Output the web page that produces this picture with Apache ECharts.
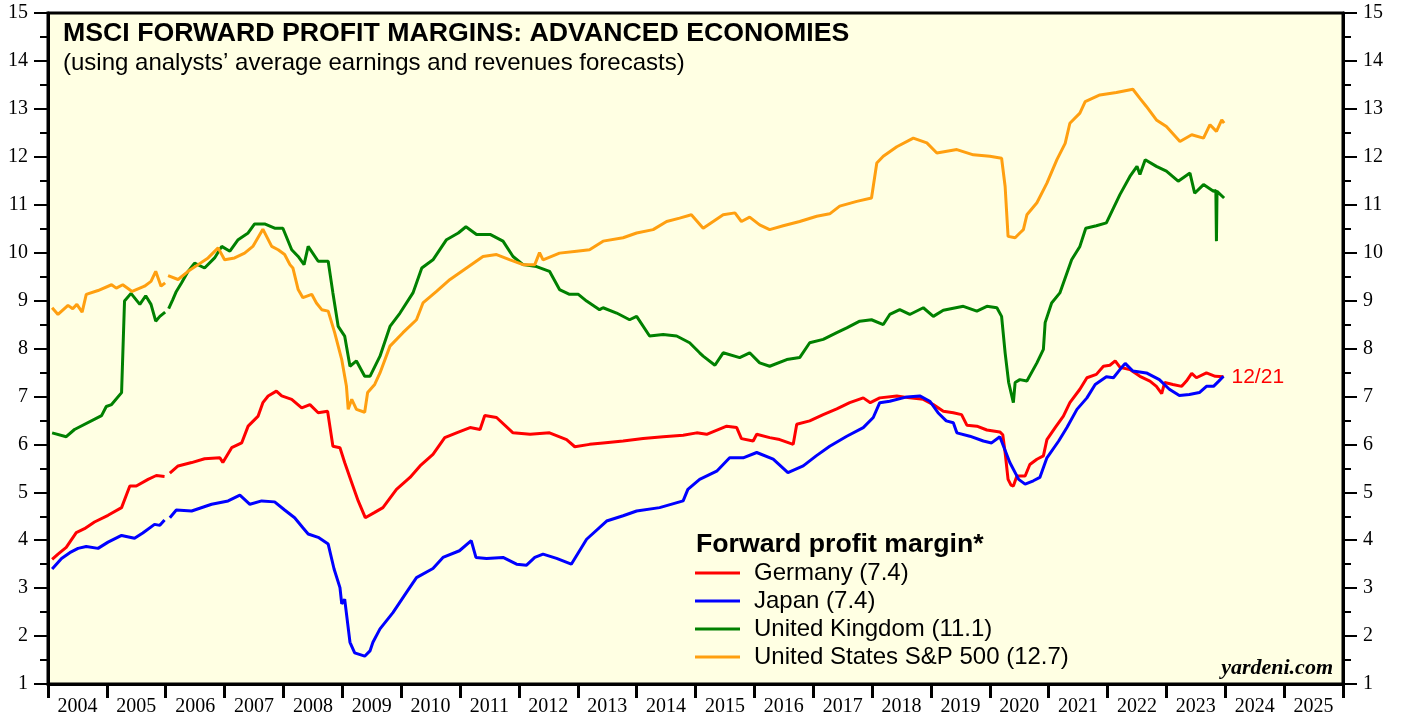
<!DOCTYPE html>
<html>
<head>
<meta charset="utf-8">
<script src="https://cdn.jsdelivr.net/npm/echarts@6/dist/echarts.min.js"></script>
<style>
html,body{margin:0;padding:0;background:#fff;}
#chart{width:1403px;height:717px;}
</style>
</head>
<body>
<div id="chart"></div>
<script>
// ---- data (fractional year, forward profit margin %) ----
const yearLabels = ['2004','2005','2006','2007','2008','2009','2010','2011','2012','2013','2014','2015','2016','2017','2018','2019','2020','2021','2022','2023','2024','2025'];
const yTicks = [1,2,3,4,5,6,7,8,9,10,11,12,13,14,15];

const germany = [[2004.07,3.60],[2004.17,3.71],[2004.31,3.85],[2004.48,4.16],[2004.62,4.24],[2004.79,4.38],[2005.02,4.52],[2005.25,4.68],[2005.39,5.13],[2005.50,5.13],[2005.70,5.27],[2005.84,5.35],[2005.98,5.33],[2006.02,null],[2006.07,5.40],[2006.21,5.55],[2006.44,5.62],[2006.66,5.70],[2006.92,5.72],[2006.97,5.62],[2007.12,5.93],[2007.29,6.03],[2007.40,6.38],[2007.57,6.59],[2007.65,6.87],[2007.74,7.01],[2007.88,7.11],[2007.97,7.01],[2008.14,6.94],[2008.31,6.76],[2008.45,6.83],[2008.59,6.66],[2008.75,6.69],[2008.84,5.96],[2008.96,5.93],[2009.04,5.62],[2009.16,5.20],[2009.27,4.82],[2009.39,4.47],[2009.55,4.58],[2009.69,4.68],[2009.92,5.06],[2010.15,5.31],[2010.32,5.55],[2010.54,5.79],[2010.74,6.14],[2010.94,6.24],[2011.17,6.35],[2011.34,6.31],[2011.42,6.60],[2011.62,6.56],[2011.90,6.24],[2012.19,6.21],[2012.52,6.24],[2012.81,6.10],[2012.95,5.95],[2013.20,6.00],[2013.43,6.03],[2013.77,6.07],[2014.11,6.12],[2014.45,6.16],[2014.79,6.19],[2015.02,6.24],[2015.19,6.21],[2015.53,6.38],[2015.70,6.35],[2015.78,6.12],[2015.98,6.07],[2016.04,6.21],[2016.26,6.14],[2016.43,6.10],[2016.66,6.00],[2016.72,6.42],[2016.94,6.49],[2017.17,6.62],[2017.40,6.74],[2017.62,6.87],[2017.85,6.97],[2017.97,6.87],[2018.13,6.97],[2018.42,7.01],[2018.64,6.97],[2018.87,6.94],[2019.04,6.83],[2019.21,6.69],[2019.38,6.66],[2019.52,6.62],[2019.61,6.40],[2019.78,6.38],[2019.95,6.30],[2020.17,6.26],[2020.22,6.20],[2020.26,5.83],[2020.31,5.27],[2020.36,5.15],[2020.40,5.13],[2020.46,5.34],[2020.49,5.38],[2020.60,5.34],[2020.68,5.58],[2020.80,5.69],[2020.91,5.76],[2020.97,6.10],[2021.11,6.35],[2021.25,6.59],[2021.36,6.87],[2021.53,7.15],[2021.65,7.39],[2021.81,7.46],[2021.93,7.63],[2022.04,7.65],[2022.13,7.74],[2022.21,7.61],[2022.38,7.56],[2022.55,7.42],[2022.72,7.32],[2022.83,7.21],[2022.92,7.06],[2022.97,7.29],[2023.11,7.25],[2023.26,7.21],[2023.34,7.32],[2023.43,7.48],[2023.51,7.39],[2023.68,7.49],[2023.83,7.42],[2023.97,7.41]];

const japan = [[2004.07,3.40],[2004.23,3.62],[2004.37,3.74],[2004.51,3.83],[2004.65,3.87],[2004.85,3.83],[2005.02,3.96],[2005.25,4.10],[2005.47,4.04],[2005.61,4.15],[2005.81,4.33],[2005.90,4.31],[2005.98,4.42],[2006.02,null],[2006.07,4.47],[2006.18,4.63],[2006.44,4.61],[2006.78,4.75],[2007.06,4.82],[2007.26,4.94],[2007.43,4.75],[2007.63,4.82],[2007.85,4.80],[2008.02,4.63],[2008.19,4.47],[2008.33,4.26],[2008.42,4.13],[2008.59,4.06],[2008.76,3.92],[2008.86,3.40],[2008.96,3.01],[2008.99,2.67],[2009.04,2.77],[2009.13,1.87],[2009.21,1.65],[2009.38,1.58],[2009.47,1.69],[2009.52,1.87],[2009.64,2.15],[2009.86,2.49],[2010.09,2.91],[2010.26,3.22],[2010.54,3.41],[2010.71,3.64],[2010.99,3.78],[2011.19,3.99],[2011.27,3.64],[2011.45,3.62],[2011.73,3.64],[2011.96,3.50],[2012.13,3.48],[2012.27,3.64],[2012.41,3.71],[2012.64,3.62],[2012.89,3.50],[2013.15,4.02],[2013.49,4.40],[2013.77,4.51],[2014.00,4.61],[2014.39,4.68],[2014.79,4.82],[2014.87,5.06],[2015.07,5.27],[2015.36,5.44],[2015.58,5.72],[2015.81,5.72],[2016.04,5.83],[2016.32,5.69],[2016.57,5.41],[2016.83,5.55],[2017.05,5.76],[2017.28,5.96],[2017.57,6.17],[2017.85,6.35],[2018.02,6.56],[2018.13,6.87],[2018.30,6.90],[2018.59,6.99],[2018.81,7.01],[2018.98,6.90],[2019.12,6.66],[2019.26,6.49],[2019.38,6.45],[2019.44,6.24],[2019.66,6.17],[2019.89,6.07],[2020.03,6.03],[2020.17,6.16],[2020.34,5.62],[2020.49,5.27],[2020.60,5.17],[2020.74,5.24],[2020.85,5.31],[2020.97,5.72],[2021.17,6.07],[2021.31,6.35],[2021.48,6.73],[2021.65,6.97],[2021.79,7.25],[2021.98,7.41],[2022.10,7.39],[2022.21,7.56],[2022.30,7.69],[2022.43,7.53],[2022.66,7.49],[2022.88,7.35],[2023.05,7.15],[2023.22,7.02],[2023.39,7.04],[2023.56,7.08],[2023.68,7.21],[2023.80,7.21],[2023.89,7.32],[2023.97,7.42]];

const unitedKingdom = [[2004.07,6.24],[2004.31,6.16],[2004.45,6.31],[2004.91,6.60],[2004.99,6.79],[2005.08,6.83],[2005.25,7.08],[2005.30,8.99],[2005.41,9.15],[2005.56,8.92],[2005.66,9.10],[2005.75,8.92],[2005.83,8.57],[2005.90,8.67],[2005.99,8.76],[2006.02,null],[2006.05,8.83],[2006.12,9.02],[2006.18,9.19],[2006.27,9.37],[2006.38,9.61],[2006.49,9.78],[2006.66,9.68],[2006.83,9.89],[2006.95,10.13],[2007.09,10.03],[2007.23,10.27],[2007.40,10.41],[2007.51,10.60],[2007.68,10.60],[2007.85,10.51],[2007.99,10.51],[2008.14,10.06],[2008.25,9.92],[2008.35,9.75],[2008.42,10.13],[2008.59,9.82],[2008.76,9.82],[2008.84,9.16],[2008.93,8.46],[2009.04,8.26],[2009.13,7.63],[2009.24,7.74],[2009.38,7.42],[2009.47,7.42],[2009.64,7.84],[2009.81,8.46],[2009.98,8.74],[2010.20,9.16],[2010.35,9.68],[2010.54,9.85],[2010.77,10.27],[2010.97,10.41],[2011.10,10.54],[2011.28,10.38],[2011.51,10.38],[2011.73,10.24],[2011.90,9.92],[2012.07,9.75],[2012.30,9.71],[2012.52,9.61],[2012.69,9.23],[2012.86,9.13],[2013.01,9.13],[2013.15,8.99],[2013.37,8.81],[2013.43,8.85],[2013.66,8.74],[2013.88,8.60],[2014.00,8.67],[2014.22,8.26],[2014.45,8.29],[2014.68,8.26],[2014.90,8.12],[2015.07,7.91],[2015.13,7.84],[2015.33,7.65],[2015.47,7.91],[2015.75,7.81],[2015.92,7.91],[2016.09,7.70],[2016.26,7.63],[2016.55,7.77],[2016.77,7.81],[2016.94,8.12],[2017.17,8.19],[2017.40,8.33],[2017.57,8.43],[2017.79,8.57],[2017.99,8.60],[2018.19,8.50],[2018.30,8.71],[2018.47,8.81],[2018.64,8.71],[2018.87,8.85],[2019.04,8.67],[2019.21,8.80],[2019.55,8.88],[2019.78,8.78],[2019.95,8.88],[2020.12,8.85],[2020.20,8.67],[2020.26,7.91],[2020.32,7.29],[2020.40,6.87],[2020.43,7.29],[2020.51,7.35],[2020.63,7.32],[2020.80,7.70],[2020.91,7.98],[2020.94,8.54],[2021.05,8.95],[2021.19,9.16],[2021.39,9.85],[2021.53,10.13],[2021.63,10.51],[2021.81,10.56],[2021.98,10.62],[2022.10,10.93],[2022.21,11.21],[2022.38,11.59],[2022.50,11.80],[2022.55,11.63],[2022.64,11.94],[2022.83,11.80],[2023.00,11.70],[2023.20,11.49],[2023.40,11.66],[2023.48,11.24],[2023.63,11.42],[2023.80,11.28],[2023.84,11.30],[2023.85,10.24],[2023.86,11.28],[2023.98,11.14]];

const unitedStates = [[2004.07,8.85],[2004.17,8.71],[2004.34,8.90],[2004.42,8.83],[2004.49,8.92],[2004.58,8.76],[2004.65,9.13],[2004.85,9.21],[2005.08,9.33],[2005.16,9.26],[2005.27,9.33],[2005.43,9.19],[2005.64,9.30],[2005.75,9.40],[2005.83,9.61],[2005.92,9.30],[2005.99,9.37],[2006.02,null],[2006.04,9.52],[2006.21,9.44],[2006.38,9.61],[2006.55,9.75],[2006.72,9.89],[2006.89,10.10],[2007.00,9.85],[2007.17,9.89],[2007.34,9.99],[2007.48,10.13],[2007.65,10.49],[2007.80,10.13],[2007.91,10.06],[2008.02,9.96],[2008.11,9.75],[2008.16,9.68],[2008.25,9.23],[2008.33,9.06],[2008.48,9.13],[2008.56,8.95],[2008.65,8.81],[2008.76,8.78],[2008.87,8.33],[2008.99,7.77],[2009.07,7.21],[2009.10,6.73],[2009.16,6.94],[2009.24,6.73],[2009.38,6.67],[2009.43,7.08],[2009.55,7.25],[2009.64,7.49],[2009.81,8.05],[2010.03,8.33],[2010.26,8.60],[2010.37,8.95],[2010.60,9.19],[2010.83,9.44],[2011.11,9.68],[2011.39,9.92],[2011.62,9.96],[2011.85,9.85],[2012.07,9.75],[2012.27,9.75],[2012.35,10.00],[2012.41,9.85],[2012.69,9.99],[2012.98,10.03],[2013.20,10.06],[2013.43,10.24],[2013.77,10.31],[2014.00,10.41],[2014.28,10.48],[2014.51,10.65],[2014.73,10.72],[2014.93,10.79],[2015.13,10.51],[2015.47,10.79],[2015.67,10.83],[2015.78,10.65],[2015.92,10.74],[2016.09,10.58],[2016.26,10.48],[2016.49,10.56],[2016.77,10.65],[2017.06,10.76],[2017.28,10.81],[2017.45,10.97],[2017.74,11.07],[2017.99,11.14],[2018.08,11.87],[2018.19,12.01],[2018.42,12.21],[2018.70,12.39],[2018.93,12.29],[2019.10,12.08],[2019.44,12.15],[2019.72,12.04],[2020.00,12.01],[2020.20,11.97],[2020.26,11.38],[2020.31,10.34],[2020.43,10.31],[2020.51,10.41],[2020.57,10.48],[2020.63,10.79],[2020.80,11.04],[2020.97,11.45],[2021.14,11.94],[2021.28,12.28],[2021.36,12.70],[2021.53,12.91],[2021.62,13.15],[2021.87,13.29],[2022.15,13.34],[2022.43,13.41],[2022.55,13.22],[2022.66,13.05],[2022.83,12.77],[2023.00,12.63],[2023.23,12.32],[2023.43,12.46],[2023.63,12.39],[2023.74,12.67],[2023.85,12.53],[2023.94,12.77],[2023.98,12.70]];

const seriesNames = ['Germany (7.4)','Japan (7.4)','United Kingdom (11.1)','United States S&P 500 (12.7)'];
const seriesColors = ['#FF0000','#0000FF','#008000','#FF9F10'];
const seriesData = [germany, japan, unitedKingdom, unitedStates];

const toPts = arr => arr.map(p => [p[0], p[1] === null ? '-' : p[1]]);

const chart = echarts.init(document.getElementById('chart'), null, {renderer:'canvas'});
const serif = 'Liberation Serif';
const sans = 'Liberation Sans';

const yAxisBase = pos => ({
  type:'value', position:pos, min:1, max:15, interval:1,
  axisLine:{show:true, lineStyle:{color:'#000', width:3}},
  axisTick:{show:true, inside:false, length:14, lineStyle:{color:'#000', width:2}},
  minorTick:{show:true, splitNumber:2, length:8, lineStyle:{color:'#000', width:2}},
  splitLine:{show:false},
  axisLabel:{show:true, margin:20, color:'#000', fontFamily:serif, fontSize:20,
    formatter: v => yTicks.indexOf(v) >= 0 ? String(v) : ''}
});

chart.setOption({
  animation:false,
  grid:{left:48, right:60, top:13, bottom:32, show:true, backgroundColor:'#FFFFE3', borderColor:'#000', borderWidth:3},
  xAxis:[
    {type:'value', min:2004, max:2026, interval:1, position:'bottom',
     axisLine:{show:true, onZero:false, lineStyle:{color:'#000', width:3}},
     axisTick:{show:true, inside:false, length:14, lineStyle:{color:'#000', width:3}},
     axisLabel:{show:false}, splitLine:{show:false}},
    {type:'category', data:yearLabels, position:'bottom', boundaryGap:true,
     axisLine:{show:false}, axisTick:{show:false}, splitLine:{show:false},
     axisLabel:{show:true, interval:0, margin:13, color:'#000', fontFamily:serif, fontSize:20}}
  ],
  yAxis:[yAxisBase('left'), yAxisBase('right')],
  legend:{
    show:true, orient:'vertical', left:690, top:554, itemWidth:45, itemHeight:3, itemGap:0,
    icon:'rect', data:seriesNames, selectedMode:false,
    textStyle:{fontFamily:sans, fontSize:24, color:'#000', lineHeight:28, padding:[0,0,0,9]}
  },
  graphic:[
    {type:'text', left:63, top:20, z:10, style:{text:'MSCI FORWARD PROFIT MARGINS: ADVANCED ECONOMIES', font:'bold 26.7px "Liberation Sans"', fill:'#000'}},
    {type:'text', left:63, top:51, z:10, style:{text:'(using analysts\u2019 average earnings and revenues forecasts)', font:'24px "Liberation Sans"', fill:'#000'}},
    {type:'text', left:696, top:531, z:10, style:{text:'Forward profit margin*', font:'bold 26.7px "Liberation Sans"', fill:'#000'}},
    {type:'text', right:70, top:657, z:10, style:{text:'yardeni.com', font:'italic bold 22px "Liberation Serif"', fill:'#000'}}
  ],
  series: seriesData.map((d,i) => ({
    type:'line', name:seriesNames[i], xAxisIndex:0, yAxisIndex:0,
    data: toPts(d), showSymbol:false, symbol:'none', connectNulls:false,
    lineStyle:{color:seriesColors[i], width:3}, itemStyle:{color:seriesColors[i]},
    z: 2 + i,
    endLabel: i === 0 ? {show:true, formatter:'12/21', color:'#FF0000', fontFamily:sans, fontSize:21, distance:8} : {show:false}
  }))
});
</script>
</body>
</html>
